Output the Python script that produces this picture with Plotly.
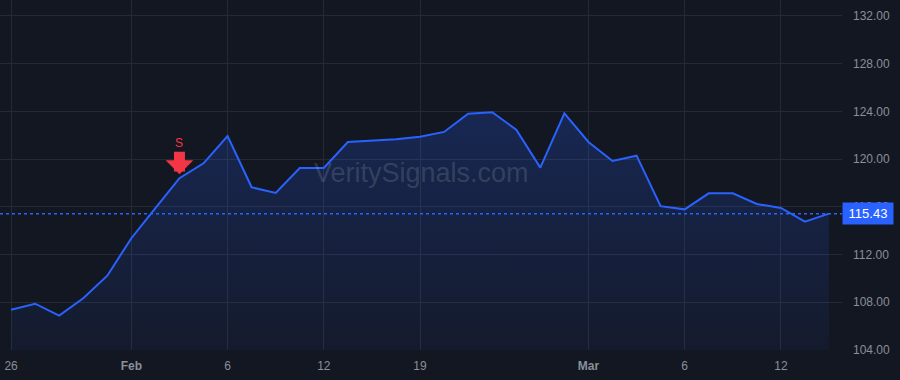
import plotly.graph_objects as go

# ---- data ----
dates = ["2026-01-26", "2026-01-27", "2026-01-28", "2026-01-29", "2026-01-30",
         "2026-02-02", "2026-02-03", "2026-02-04", "2026-02-05", "2026-02-06",
         "2026-02-09", "2026-02-10", "2026-02-11", "2026-02-12", "2026-02-13",
         "2026-02-17", "2026-02-18", "2026-02-19", "2026-02-20", "2026-02-23",
         "2026-02-24", "2026-02-25", "2026-02-26", "2026-02-27", "2026-03-02",
         "2026-03-03", "2026-03-04", "2026-03-05", "2026-03-06", "2026-03-09",
         "2026-03-10", "2026-03-11", "2026-03-12", "2026-03-13", "2026-03-16"]
prices = [107.38, 107.88, 106.88, 108.34, 110.23,
          113.37, 115.90, 118.40, 119.65, 121.94,
          117.64, 117.16, 119.26, 119.26, 121.44,
          121.58, 121.66, 121.87, 122.28, 123.81,
          123.93, 122.47, 119.29, 123.84, 121.44,
          119.85, 120.29, 116.06, 115.79, 117.13,
          117.13, 116.24, 115.91, 114.76, 115.43]
tick_dates = ["2026-01-26", "2026-02-02", "2026-02-06", "2026-02-12",
              "2026-02-19", "2026-03-02", "2026-03-06", "2026-03-12"]
tick_labels = ["26", "<b>Feb</b>", "6", "12", "19", "<b>Mar</b>", "6", "12"]
y_ticks = [104, 108, 112, 116, 120, 124, 128, 132]
signal_date = "2026-02-04"
signal_price = 118.40
signal_label = "S"
last_price = prices[-1]
watermark = "VeritySignals.com"

BG = "#131722"
GRID = "#262a35"
LINE = "#2962FF"
TXT = "#8a8f98"
RED = "#F23645"
FONT = "Arial"

fig = go.Figure()
# baseline for fill
fig.add_trace(go.Scatter(x=dates, y=[y_ticks[0]] * len(dates), mode="lines",
                         line=dict(width=0), hoverinfo="skip", showlegend=False))
fig.add_trace(go.Scatter(
    x=dates, y=prices, mode="lines",
    line=dict(color=LINE, width=2),
    fill="tonexty",
    fillgradient=dict(type="vertical",
                      colorscale=[[0, "rgba(41,98,255,0.05)"], [1, "rgba(41,98,255,0.22)"]]),
    showlegend=False))

fig.add_hline(y=last_price, line=dict(color=LINE, width=1.5, dash="3px,3px"))

fig.add_annotation(x=1, xref="paper", y=last_price, yref="y",
                   text=f"{last_price:.2f}", showarrow=False, xanchor="left",
                   bgcolor=LINE, font=dict(color="white", size=13, family=FONT),
                   borderpad=3, width=44, align="center")

fig.add_annotation(x=signal_date, y=signal_price, text=signal_label,
                   showarrow=True, arrowhead=1, arrowsize=0.42, arrowwidth=11,
                   arrowcolor=RED, ax=0, ay=-35, standoff=4,
                   font=dict(color=RED, size=12, family=FONT))

fig.add_annotation(x=0.5, y=0.505, xref="paper", yref="paper", text=watermark,
                   showarrow=False, font=dict(color="rgba(255,255,255,0.14)", size=27, family=FONT))

fig.update_layout(
    width=900, height=380,
    margin=dict(l=0, r=58, t=0, b=30),
    paper_bgcolor=BG, plot_bgcolor=BG,
    font=dict(family=FONT, color=TXT, size=12),
    xaxis=dict(type="category", range=[-0.46, 34.54], tickmode="array",
               tickvals=tick_dates, ticktext=tick_labels, showgrid=True,
               gridcolor=GRID, gridwidth=1, zeroline=False, showline=False,
               ticks="", ticklabelstandoff=7, tickfont=dict(size=12, color=TXT)),
    yaxis=dict(side="right", range=[104, 133.34], tickmode="array",
               tickvals=y_ticks, tickformat=".2f", showgrid=True,
               gridcolor=GRID, gridwidth=1, zeroline=False, showline=False,
               ticks="", ticklabelstandoff=10, tickfont=dict(size=12, color=TXT)),
)

fig.write_html("out.html")
